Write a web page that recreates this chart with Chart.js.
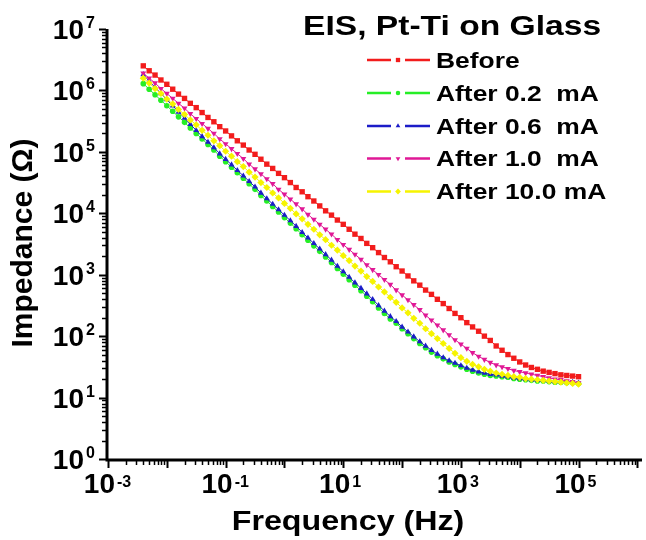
<!DOCTYPE html>
<html>
<head>
<meta charset="utf-8">
<script src="https://cdn.jsdelivr.net/npm/chart.js@4.4.1/dist/chart.umd.min.js"></script>
<style>
    html, body { margin: 0; padding: 0; background: #fff; }
    #wrap { width: 646px; height: 540px; }
</style>
</head>
<body>
<div id="wrap"><canvas id="eis" width="646" height="540"></canvas></div>
<script>
// frequency sweep, 10 points per decade (Hz)
const frequencyHz = [
    3.98e-3, 5.01e-3, 6.31e-3, 7.94e-3,
    0.01, 0.0126, 0.0158, 0.02, 0.0251, 0.0316, 0.0398, 0.0501, 0.0631, 0.0794,
    0.1, 0.126, 0.158, 0.2, 0.251, 0.316, 0.398, 0.501, 0.631, 0.794,
    1, 1.26, 1.58, 2, 2.51, 3.16, 3.98, 5.01, 6.31, 7.94,
    10, 12.6, 15.8, 20, 25.1, 31.6, 39.8, 50.1, 63.1, 79.4,
    100, 126, 158, 200, 251, 316, 398, 501, 631, 794,
    1000, 1260, 1580, 2000, 2510, 3160, 3980, 5010, 6310, 7940,
    10000, 12600, 15800, 20000, 25100, 31600, 39800, 50100, 63100, 79400,
    100000
];

// log10 |Z| (ohm), one value per frequency
const logZBefore = [
    6.40, 6.32, 6.25, 6.17, 6.10, 6.02, 5.94, 5.87, 5.79, 5.72,
    5.64, 5.56, 5.49, 5.41, 5.34, 5.26, 5.18, 5.11, 5.03, 4.96,
    4.88, 4.80, 4.73, 4.65, 4.58, 4.50, 4.42, 4.35, 4.27, 4.20,
    4.12, 4.04, 3.97, 3.89, 3.82, 3.74, 3.66, 3.59, 3.51, 3.44,
    3.36, 3.28, 3.21, 3.13, 3.06, 2.98, 2.90, 2.83, 2.75, 2.68,
    2.60, 2.53, 2.45, 2.37, 2.30, 2.22, 2.15, 2.08, 2.00, 1.93,
    1.84, 1.77, 1.70, 1.64, 1.58, 1.53, 1.49, 1.46, 1.43, 1.41,
    1.39, 1.37, 1.36, 1.35, 1.34
];
const logZAfter02 = [
    6.11, 6.02, 5.93, 5.84, 5.75, 5.66, 5.57, 5.48, 5.39, 5.30,
    5.21, 5.12, 5.03, 4.93, 4.84, 4.75, 4.66, 4.57, 4.48, 4.39,
    4.29, 4.20, 4.11, 4.02, 3.93, 3.84, 3.75, 3.65, 3.56, 3.47,
    3.38, 3.29, 3.20, 3.10, 3.01, 2.92, 2.83, 2.74, 2.65, 2.56,
    2.46, 2.37, 2.28, 2.21, 2.12, 2.04, 1.96, 1.88, 1.81, 1.74,
    1.68, 1.63, 1.58, 1.54, 1.50, 1.46, 1.43, 1.40, 1.38, 1.36,
    1.35, 1.34, 1.33, 1.31, 1.30, 1.29, 1.28, 1.27, 1.27, 1.26,
    1.25, 1.25, 1.24, 1.24, 1.23
];
const logZAfter06 = [
    6.26, 6.15, 6.05, 5.95, 5.85, 5.75, 5.65, 5.55, 5.45, 5.35,
    5.25, 5.16, 5.07, 4.97, 4.88, 4.79, 4.70, 4.61, 4.52, 4.43,
    4.33, 4.24, 4.15, 4.06, 3.97, 3.88, 3.79, 3.69, 3.60, 3.51,
    3.42, 3.33, 3.24, 3.14, 3.05, 2.96, 2.87, 2.78, 2.69, 2.60,
    2.50, 2.41, 2.32, 2.24, 2.15, 2.07, 1.99, 1.91, 1.84, 1.77,
    1.71, 1.65, 1.60, 1.56, 1.52, 1.48, 1.45, 1.42, 1.40, 1.38,
    1.37, 1.35, 1.34, 1.32, 1.31, 1.30, 1.29, 1.28, 1.28, 1.27,
    1.26, 1.26, 1.25, 1.25, 1.24
];
const logZAfter10 = [
    6.28, 6.20, 6.12, 6.03, 5.95, 5.87, 5.79, 5.71, 5.62, 5.54,
    5.46, 5.38, 5.30, 5.21, 5.13, 5.05, 4.97, 4.89, 4.80, 4.72,
    4.64, 4.56, 4.48, 4.39, 4.31, 4.23, 4.15, 4.07, 3.98, 3.90,
    3.82, 3.74, 3.66, 3.57, 3.49, 3.41, 3.33, 3.25, 3.16, 3.08,
    3.00, 2.92, 2.84, 2.75, 2.67, 2.59, 2.51, 2.43, 2.34, 2.26,
    2.18, 2.10, 2.02, 1.94, 1.87, 1.80, 1.73, 1.67, 1.62, 1.57,
    1.53, 1.50, 1.47, 1.44, 1.42, 1.40, 1.38, 1.36, 1.34, 1.32,
    1.30, 1.29, 1.27, 1.26, 1.24
];
const logZAfter100 = [
    6.20, 6.12, 6.03, 5.95, 5.86, 5.78, 5.69, 5.61, 5.52, 5.44,
    5.35, 5.27, 5.18, 5.10, 5.01, 4.93, 4.84, 4.76, 4.67, 4.59,
    4.50, 4.42, 4.33, 4.25, 4.16, 4.08, 3.99, 3.91, 3.82, 3.74,
    3.65, 3.57, 3.48, 3.40, 3.31, 3.23, 3.14, 3.06, 2.97, 2.89,
    2.80, 2.72, 2.63, 2.55, 2.46, 2.38, 2.29, 2.21, 2.12, 2.04,
    1.96, 1.88, 1.80, 1.72, 1.65, 1.59, 1.54, 1.50, 1.46, 1.43,
    1.40, 1.38, 1.36, 1.34, 1.33, 1.31, 1.30, 1.29, 1.28, 1.27,
    1.26, 1.25, 1.24, 1.23, 1.22
];

const seriesLabels = ["Before", "After 0.2  mA", "After 0.6  mA", "After 1.0  mA", "After 10.0 mA"];
const seriesLogZ = [logZBefore, logZAfter02, logZAfter06, logZAfter10, logZAfter100];

const yTickExponents = [0, 1, 2, 3, 4, 5, 6, 7];
const xTickExponents = [-3, -1, 1, 3, 5];

const chartTitle = "EIS, Pt-Ti on Glass";
const xTitle = "Frequency (Hz)";
const yTitle = "Impedance (\u03A9)";

// styling
const seriesColors = ["#f21c1c", "#26ee26", "#1c1cc8", "#e01896", "#f6f400"];
const markers = [
    { pointStyle: "rect", radius: 3.8, rotation: 0 },
    { pointStyle: "circle", radius: 2.8, rotation: 0 },
    { pointStyle: "triangle", radius: 3.4, rotation: 0 },
    { pointStyle: "triangle", radius: 3.4, rotation: 180 },
    { pointStyle: "rectRot", radius: 3.6, rotation: 0 },
];
const FONT = '"Liberation Sans", Arial, sans-serif';

function drawText(ctx, text, x, y, size, align, stretch = 1, rotate = 0) {
    ctx.save();
    ctx.translate(x, y);
    if (rotate) ctx.rotate(rotate);
    ctx.scale(stretch, 1);
    ctx.font = `bold ${size}px ${FONT}`;
    ctx.textAlign = align;
    ctx.textBaseline = "alphabetic";
    ctx.fillText(text, 0, 0);
    ctx.restore();
}

const decorPlugin = {
    id: "decor",
    afterDraw(chart) {
        const { ctx, chartArea: area, scales: { x, y } } = chart;
        ctx.save();
        ctx.strokeStyle = "#000";
        ctx.fillStyle = "#000";

        // axis lines
        ctx.lineWidth = 3;
        ctx.beginPath();
        ctx.moveTo(area.left - 1, area.top);
        ctx.lineTo(area.left - 1, area.bottom + 1);
        ctx.lineTo(area.right, area.bottom + 1);
        ctx.stroke();

        // log ticks, outward
        const yMin = Math.log10(y.min), yMax = Math.log10(y.max);
        for (let e = Math.floor(yMin); e <= yMax; e++) {
            for (let m = 1; m <= 9; m++) {
                const v = m * Math.pow(10, e);
                if (v < y.min || v > y.max * 1.0001) continue;
                const py = Math.round(y.getPixelForValue(v)) + 0.5;
                const len = m === 1 ? 7 : 4;
                ctx.lineWidth = m === 1 ? 2 : 1.5;
                ctx.beginPath();
                ctx.moveTo(area.left - 2, py);
                ctx.lineTo(area.left - 2 - len, py);
                ctx.stroke();
            }
        }
        const xMin = Math.log10(x.min), xMax = Math.log10(x.max);
        for (let e = Math.floor(xMin); e <= xMax; e++) {
            for (let m = 1; m <= 9; m++) {
                const v = m * Math.pow(10, e);
                if (v < x.min * 0.9999 || v > x.max) continue;
                const px = Math.round(x.getPixelForValue(v)) + 0.5;
                const len = m === 1 ? 7 : 4;
                ctx.lineWidth = m === 1 ? 2 : 1.5;
                ctx.beginPath();
                ctx.moveTo(px, area.bottom + 2);
                ctx.lineTo(px, area.bottom + 2 + len);
                ctx.stroke();
            }
        }

        // tick labels 10^n
        for (const e of yTickExponents) {
            const py = y.getPixelForValue(Math.pow(10, e));
            drawText(ctx, "10", 84, py + 10, 28, "right");
            drawText(ctx, String(e), 86, py - 1, 16, "left");
        }
        for (const e of xTickExponents) {
            const px = x.getPixelForValue(Math.pow(10, e));
            drawText(ctx, "10", px + 7, 493, 28, "right");
            drawText(ctx, String(e), px + 9, 487, 16, "left");
        }

        // axis titles and chart title
        drawText(ctx, xTitle, 348, 530, 28, "center", 1.15);
        drawText(ctx, yTitle, 32, 243, 30, "center", 1, -Math.PI / 2);
        drawText(ctx, chartTitle, 303, 35, 28, "left", 1.2);

        // legend: dash - symbol - dash
        const rowY = [60, 93, 126, 158.5, 191.5];
        seriesLabels.forEach((label, i) => {
            const ly = rowY[i];
            ctx.strokeStyle = seriesColors[i];
            ctx.fillStyle = seriesColors[i];
            ctx.lineWidth = 2.5;
            ctx.beginPath();
            ctx.moveTo(367, ly);
            ctx.lineTo(391, ly);
            ctx.moveTo(405, ly);
            ctx.lineTo(430, ly);
            ctx.stroke();
            Chart.helpers.drawPoint(ctx, {
                pointStyle: markers[i].pointStyle,
                rotation: markers[i].rotation,
                radius: markers[i].radius * 0.8,
                borderWidth: 0,
            }, 398, ly);
            ctx.fillStyle = "#000";
            drawText(ctx, label, 436, ly + 7.5, 22, "left", 1.2);
        });

        ctx.restore();
    }
};

const ctx = document.getElementById("eis").getContext("2d");

new Chart(ctx, {
    type: "line",
    data: {
        datasets: seriesLogZ.map((logs, i) => ({
            label: seriesLabels[i],
            data: frequencyHz.map((f, k) => ({ x: f, y: Math.pow(10, logs[k]) })),
            borderColor: seriesColors[i],
            backgroundColor: seriesColors[i],
            borderWidth: 1,
            pointStyle: markers[i].pointStyle,
            pointRadius: markers[i].radius,
            pointRotation: markers[i].rotation,
            pointBorderWidth: 0,
            tension: 0,
            order: seriesLabels.length - i,
        })),
    },
    options: {
        responsive: false,
        animation: false,
        devicePixelRatio: 1,
        layout: {
            padding: { left: 108, top: 29, right: 0, bottom: 81 },
        },
        plugins: {
            legend: { display: false },
            tooltip: { enabled: false },
        },
        scales: {
            x: {
                type: "logarithmic",
                display: false,
                min: 1e-3,
                max: 1.2e6,
            },
            y: {
                type: "logarithmic",
                display: false,
                min: 1,
                max: 1e7,
            },
        },
    },
    plugins: [decorPlugin],
});
</script>
</body>
</html>
